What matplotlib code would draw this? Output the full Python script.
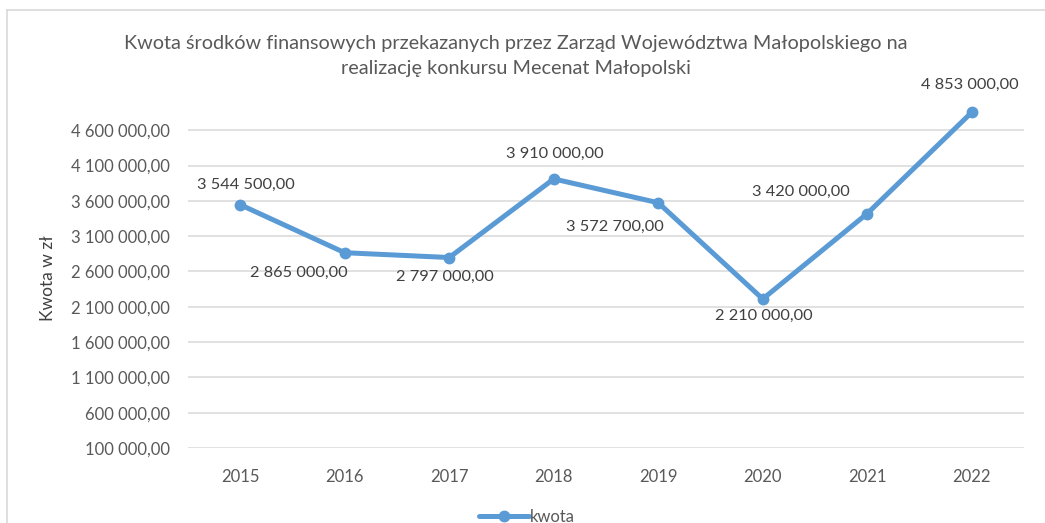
import numpy as np
import matplotlib
matplotlib.use("Agg")
import matplotlib.pyplot as plt
from matplotlib.ticker import FuncFormatter
from matplotlib.lines import Line2D

# --------------------------
# Data
# --------------------------
years = ["2015", "2016", "2017", "2018", "2019", "2020", "2021", "2022"]
kwota = [3544500, 2865000, 2797000, 3910000, 3572700, 2210000, 3420000, 4853000]

# label offsets in pixels (x, y), as placed in the original chart
label_offsets = [(6, 20), (-46, -20), (-4, -19), (1, 25), (-43, -24), (1, -17), (-66, 22), (-2, 27)]

title = ("Kwota środków finansowych przekazanych przez Zarząd Województwa Małopolskiego na\n"
         "realizację konkursu Mecenat Małopolski")


def pl_fmt(v, pos=None):
    return f"{v:,.2f}".replace(",", " ").replace(".", ",")


plt.rcParams['font.family'] = ['Lato', 'DejaVu Sans']

blue = "#5B9BD5"
grey = "#595959"

fig = plt.figure(figsize=(10.45, 5.23), dpi=100)
ax = fig.add_axes([188 / 1045, 1 - 448 / 523, (1024 - 188) / 1045, (448 - 109) / 523])

x = np.arange(len(years))
ax.plot(x, kwota, color=blue, linewidth=3.6, marker="o", markersize=7.5,
        solid_capstyle="round", label="kwota", zorder=3, clip_on=False)

for xi, v, (dx, dy) in zip(x, kwota, label_offsets):
    ax.annotate(pl_fmt(v), (xi, v), xytext=(dx, dy), textcoords="offset pixels",
                ha="center", va="center", fontsize=11.8, color="#404040")

ax.set_xlim(-0.5, len(years) - 0.5)
ax.set_ylim(100000, 4900000)
ax.set_yticks(np.arange(100000, 4600001, 500000))
ax.yaxis.set_major_formatter(FuncFormatter(pl_fmt))
ax.set_xticks(x)
ax.set_xticklabels(years)

ax.grid(axis="y", color="#D9D9D9", linewidth=1.1)
ax.set_axisbelow(True)
for s in ax.spines.values():
    s.set_visible(False)
ax.tick_params(axis="both", length=0, colors=grey, labelsize=12)
ax.tick_params(axis="y", pad=13)
ax.tick_params(axis="x", pad=15)

ax.set_ylabel("Kwota w zł", fontsize=12.5, color="#404040", labelpad=0)
ax.yaxis.set_label_coords(-(188 - 56) / 836, 0.5)

fig.text(516 / 1045, 1 - 56 / 523, title, ha="center", va="center",
         fontsize=14.3, color=grey, linespacing=1.6)

fig.legend(loc="center", bbox_to_anchor=(527 / 1045, 1 - 517 / 523), frameon=False,
           fontsize=12, handlelength=3, handletextpad=0.1, labelcolor=grey)

# chart frame
fig.add_artist(Line2D([7 / 1045, 1], [1 - 10 / 523] * 2, color="#D9D9D9", linewidth=1.2))
fig.add_artist(Line2D([7 / 1045] * 2, [0, 1 - 10 / 523], color="#D9D9D9", linewidth=1.2))

fig.savefig("out.png", dpi=100)
